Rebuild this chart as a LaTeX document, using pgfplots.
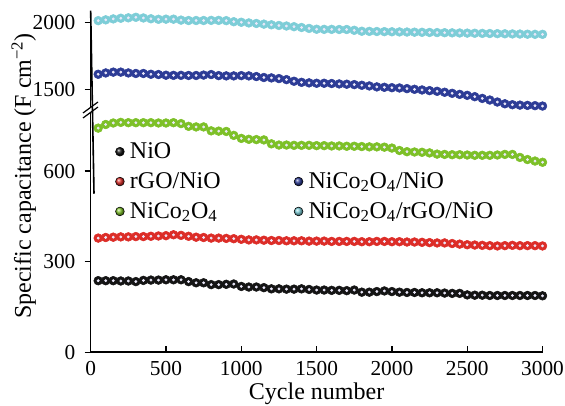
\documentclass[border=0pt]{standalone}
\usepackage{pgfplots}
\usepackage{pgfplotstable}
\pgfplotsset{compat=1.18}
\usepackage{fontspec}
\setmainfont{Liberation Serif}
\definecolor{cNiO}{RGB}{20,20,20}
\definecolor{cRGO}{RGB}{220,45,40}
\definecolor{cNCO}{RGB}{125,192,40}
\definecolor{cNCON}{RGB}{45,60,150}
\definecolor{cAll}{RGB}{125,205,215}
\definecolor{cDot}{RGB}{235,232,250}

\pgfplotstableread{
x y
50 237
100 237
150 237
200 236
250 236
300 234
350 238
400 239
450 239
500 240
550 240
600 240
650 234
700 230
750 230
800 224
850 224
900 225
950 226
1000 218
1050 216
1100 216
1150 214
1200 210
1250 210
1300 209
1350 209
1400 210
1450 208
1500 206
1550 206
1600 205
1650 205
1700 204
1750 206
1800 199
1850 199
1900 201
1950 203
2000 201
2050 199
2100 198
2150 198
2200 197
2250 197
2300 197
2350 196
2400 195
2450 195
2500 190
2550 189
2600 189
2650 188
2700 188
2750 188
2800 188
2850 188
2900 188
2950 188
3000 187
}\tNiO

\pgfplotstableread{
x y
50 378
100 380
150 381
200 382
250 382
300 383
350 383
400 384
450 385
500 386
550 389
600 387
650 384
700 381
750 380
800 378
850 378
900 377
950 376
1000 374
1050 372
1100 372
1150 371
1200 370
1250 370
1300 369
1350 369
1400 369
1450 368
1500 368
1550 368
1600 367
1650 367
1700 367
1750 367
1800 366
1850 366
1900 367
1950 367
2000 366
2050 366
2100 365
2150 365
2200 364
2250 363
2300 362
2350 362
2400 360
2450 358
2500 356
2550 355
2600 354
2650 353
2700 352
2750 353
2800 354
2850 353
2900 353
2950 353
3000 352
}\tRGO

\pgfplotstableread{
x y
50 742
100 754
150 759
200 761
250 760
300 760
350 760
400 760
450 759
500 759
550 760
600 757
650 748
700 746
750 746
800 733
850 732
900 731
950 718
1000 708
1050 705
1100 704
1150 703
1200 690
1250 686
1300 686
1350 685
1400 685
1450 685
1500 684
1550 684
1600 683
1650 683
1700 682
1750 682
1800 681
1850 680
1900 680
1950 679
2000 676
2050 668
2100 664
2150 663
2200 662
2250 660
2300 656
2350 655
2400 654
2450 654
2500 653
2550 652
2600 652
2650 652
2700 653
2750 655
2800 655
2850 645
2900 638
2950 633
3000 629
}\tNCO

\pgfplotstableread{
x y
50 1612
100 1622
150 1628
200 1628
250 1622
300 1618
350 1618
400 1612
450 1610
500 1605
550 1604
600 1604
650 1603
700 1603
750 1606
800 1610
850 1602
900 1600
950 1600
1000 1602
1050 1600
1100 1595
1150 1588
1200 1585
1250 1580
1300 1572
1350 1560
1400 1552
1450 1548
1500 1545
1550 1545
1600 1543
1650 1540
1700 1538
1750 1535
1800 1530
1850 1525
1900 1518
1950 1515
2000 1512
2050 1510
2100 1505
2150 1500
2200 1495
2250 1490
2300 1485
2350 1478
2400 1470
2450 1462
2500 1455
2550 1445
2600 1432
2650 1420
2700 1405
2750 1392
2800 1385
2850 1382
2900 1380
2950 1378
3000 1375
}\tNCON

\pgfplotstableread{
x y
50 2012
100 2018
150 2025
200 2030
250 2033
300 2037
350 2032
400 2026
450 2022
500 2023
550 2023
600 2016
650 2013
700 2013
750 2013
800 2014
850 2014
900 2012
950 2004
1000 2000
1050 1995
1100 1991
1150 1986
1200 1981
1250 1976
1300 1972
1350 1967
1400 1961
1450 1954
1500 1948
1550 1947
1600 1947
1650 1946
1700 1946
1750 1940
1800 1933
1850 1932
1900 1931
1950 1930
2000 1929
2050 1928
2100 1927
2150 1926
2200 1925
2250 1924
2300 1923
2350 1922
2400 1921
2450 1920
2500 1919
2550 1918
2600 1917
2650 1916
2700 1915
2750 1914
2800 1913
2850 1912
2900 1911
2950 1910
3000 1910
}\tAll

\newcommand\fsA{\fontsize{16pt}{19pt}\selectfont}
\newcommand\fsB{\fontsize{18pt}{20pt}\selectfont}
\newcommand\fsC{\fontsize{18pt}{21pt}\selectfont}

\pgfplotsset{
  base/.style={
    scale only axis, width=338.9pt, clip=false,
    xmin=0, xmax=3000,
    axis line style={-, line width=1.2pt},
    major tick length=4.5pt,
    tick style={line width=1pt, black},
    xtick align=inside,
    ytick align=outside,
    /pgf/number format/assume math mode=true,
    /pgf/number format/set thousands separator={},
    tick label style={font=\fsA},
    yticklabel style={inner sep=0pt, xshift=-6.75pt},
    xticklabel style={inner sep=0pt, yshift=-6.5pt},
  },
  balls/.style={only marks, mark=*, mark size=3.3pt, color=#1, forget plot},
  dots/.style={only marks, mark=*, mark size=0.85pt, draw=none, fill=cDot, color=cDot, forget plot},
}

\begin{document}
\begin{tikzpicture}
\path[use as bounding box] (0,0) rectangle (423.75pt,304.5pt);

% lower axis
\begin{axis}[base,
  at={(68pt,40.28pt)}, anchor=origin, height=179.9pt,
  ymin=0, ymax=794,
  axis x line*=bottom, axis y line*=left,
  xtick={0,500,...,3000}, ytick={0,300,600},
  xlabel={Cycle number},
  xlabel style={font=\fsC, at={(axis description cs:0.5,0)}, anchor=base, yshift=-35.5pt},
  legend columns=2, legend cell align=left,
  legend style={at={(axis description cs:0.045,0.897)}, anchor=north west,
    draw=none, fill=none, font=\fsB, row sep=5pt,
    /tikz/every odd column/.append style={column sep=2pt},
    /tikz/every even column/.append style={column sep=53pt}},
]
\addplot[balls=cNiO] table {\tNiO};
\addplot[dots] table {\tNiO};
\addplot[balls=cRGO] table {\tRGO};
\addplot[dots] table {\tRGO};
\addplot[balls=cNCO] table {\tNCO};
\addplot[dots] table {\tNCO};

\addlegendimage{legend image code/.code={\shade[ball color=cNiO] (0.25em,0) circle (3.3pt);}}
\addlegendentry{NiO}
\addlegendimage{empty legend}
\addlegendentry{}
\addlegendimage{legend image code/.code={\shade[ball color=cRGO] (0.25em,0) circle (3.3pt);}}
\addlegendentry{rGO/NiO}
\addlegendimage{legend image code/.code={\shade[ball color=cNCON] (0.25em,0) circle (3.3pt);}}
\addlegendentry{NiCo\textsubscript{2}O\textsubscript{4}/NiO}
\addlegendimage{legend image code/.code={\shade[ball color=cNCO] (0.25em,0) circle (3.3pt);}}
\addlegendentry{NiCo\textsubscript{2}O\textsubscript{4}}
\addlegendimage{legend image code/.code={\shade[ball color=cAll] (0.25em,0) circle (3.3pt);}}
\addlegendentry{NiCo\textsubscript{2}O\textsubscript{4}/rGO/NiO}
\end{axis}

% upper axis
\begin{axis}[base,
  at={(68pt,223.95pt)}, anchor=origin, height=72.5pt,
  ymin=1365, ymax=2086,
  axis x line=none, axis y line*=left,
  ytick={1500,2000},
]
\addplot[balls=cNCON] table {\tNCON};
\addplot[dots] table {\tNCON};
\addplot[balls=cAll] table {\tAll};
\addplot[dots] table {\tAll};
\draw[line width=1.2pt] (axis description cs:0,1) -- ++(2.5pt,0);
\end{axis}

% axis break marks
\draw[line width=0.9pt] (62.25pt,216pt) -- (73.5pt,224.25pt);
\draw[line width=0.9pt] (62.25pt,219.75pt) -- (73.5pt,228pt);

\node[rotate=90, anchor=base, font=\fsC] at (23.25pt,172.5pt)
  {Specific capacitance (F cm\textsuperscript{−2})};
\end{tikzpicture}
\end{document}
